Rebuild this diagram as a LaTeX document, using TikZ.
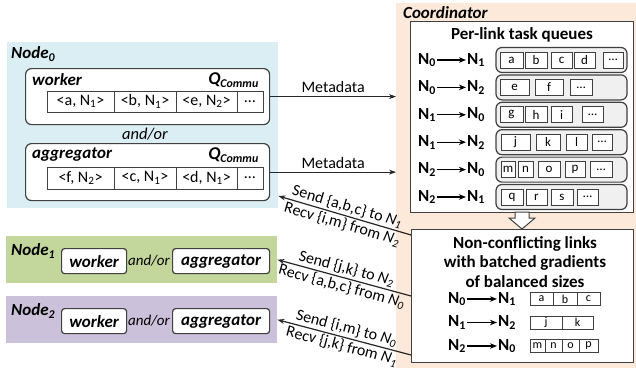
\documentclass[tikz,border=0pt]{standalone}
\usepackage{fontspec}
\setmainfont{Carlito}
\usetikzlibrary{positioning, arrows.meta, calc}

\definecolor{bgzero}{HTML}{DAEEF3}
\definecolor{bgone}{HTML}{C3D69B}
\definecolor{bgtwo}{HTML}{CCC1DA}
\definecolor{bgcoord}{HTML}{FDE9D9}
\definecolor{edge}{HTML}{404040}
\definecolor{qfill}{HTML}{F0F0F0}

\begin{document}
\begin{tikzpicture}[x=1pt, y=-1pt, font=\fontsize{16}{19}\selectfont,
    bgbox/.style={draw=none, inner sep=0pt, anchor=north west},
    rolebox/.style={draw=edge, fill=white, line width=1.2pt, rounded corners=6pt, inner sep=0pt, anchor=north west},
    smallrole/.style={rolebox, rounded corners=3pt, minimum height=25pt},
    panel/.style={draw=edge, fill=white, line width=1.2pt, inner sep=0pt, anchor=north west},
    cell/.style={draw=edge, fill=white, line width=1pt, inner sep=0pt},
    qrow/.style={draw=edge, fill=qfill, line width=1.2pt, rounded corners=6pt, inner sep=0pt,
                 minimum width=131pt, minimum height=25pt},
    hdr/.style={font=\fontsize{17}{20}\selectfont\bfseries\itshape, inner sep=1pt},
    lnk/.style={font=\fontsize{17}{20}\selectfont\bfseries, inner sep=1pt},
    instr/.style={midway, sloped, inner sep=1.5pt},
    flow/.style={draw=black!85, line width=1.2pt, -{Stealth[length=7pt, width=5pt]}},
    lnkarrow/.style={draw=black, line width=1.1pt, -{Stealth[length=7pt, width=5.5pt]}},
  ]
  \useasboundingbox (0,0) rectangle (636,370);

  % coloured backgrounds
  \node[bgbox, fill=bgzero, minimum width=271pt, minimum height=166pt] (nzero) at (7,42) {};
  \node[bgbox, fill=bgone, minimum width=271pt, minimum height=47pt] (none) at (6,236) {};
  \node[bgbox, fill=bgtwo, minimum width=271pt, minimum height=47pt] (ntwo) at (6,296) {};
  \node[bgbox, fill=bgcoord, minimum width=240pt, minimum height=365pt] (coord) at (396,3) {};

  % Node0: worker and aggregator with their Q_Commu queues
  \node[hdr, anchor=west] (nzerolbl) at (10,54) {Node\textsubscript{0}};

  \node[rolebox, minimum width=244pt, minimum height=56pt] (wk) at (25,68) {};
  \node[hdr, anchor=west] (wklbl) at (31,80) {worker};
  \node[hdr, anchor=east] (wkq) at (260,80) {{\fontsize{18}{20}\selectfont Q}\textsubscript{Commu}};
  \foreach \lft/\rgt/\txt [count=\row] in {47/114/{<a, N\textsubscript{1}>}, 114/176/{<b, N\textsubscript{1}>},
      176/237/{<e, N\textsubscript{2}>}, 237/263/\ldots}
    \node[cell, minimum width={(\rgt-\lft)*1pt}, minimum height=21pt] (wkc\row) at ({(\lft+\rgt)/2},101.5) {\txt};

  \node[font=\fontsize{16.5}{19}\selectfont\itshape] (andor) at (145,134.5) {and/or};

  \node[rolebox, minimum width=244pt, minimum height=57pt] (ag) at (25,143) {};
  \node[hdr, anchor=west] (aglbl) at (31,155) {aggregator};
  \node[hdr, anchor=east] (agq) at (260,155) {{\fontsize{18}{20}\selectfont Q}\textsubscript{Commu}};
  \foreach \lft/\rgt/\txt [count=\row] in {47/114/{<f, N\textsubscript{2}>}, 114/176/{<c, N\textsubscript{1}>},
      176/237/{<d, N\textsubscript{1}>}, 237/263/\ldots}
    \node[cell, minimum width={(\rgt-\lft)*1pt}, minimum height=22pt] (agc\row) at ({(\lft+\rgt)/2},178) {\txt};

  % Node1 and Node2
  \node[hdr, anchor=west] (nonelbl) at (10,251) {Node\textsubscript{1}};
  \node[smallrole, minimum width=65pt] (onewk) at (61,248) {};
  \node[hdr] at (onewk.center) {worker};
  \node[font=\fontsize{15}{18}\selectfont\itshape] (oneor) at (149,261) {and/or};
  \node[smallrole, minimum width=97pt] (oneag) at (172,248) {};
  \node[hdr] at (oneag.center) {aggregator};

  \node[hdr, anchor=west] (ntwolbl) at (10,311) {Node\textsubscript{2}};
  \node[smallrole, minimum width=65pt] (twowk) at (61,308) {};
  \node[hdr] at (twowk.center) {worker};
  \node[font=\fontsize{15}{18}\selectfont\itshape] (twoor) at (149,321) {and/or};
  \node[smallrole, minimum width=97pt] (twoag) at (172,308) {};
  \node[hdr] at (twoag.center) {aggregator};

  % Coordinator: per-link task queues
  \node[hdr, anchor=west] (coordlbl) at (402,13) {Coordinator};
  \node[panel, minimum width=223pt, minimum height=191pt] (ptq) at (410,21) {};
  \node[lnk] (ptqlbl) at (522,35) {Per-link task queues};
  \foreach \src/\dst/\cells [count=\row] in {
      0/1/{500/523/a,525/547/b,551/572/c,574/595/d,603/623/\ldots},
      0/2/{500/529/e,535/563/f,570/592/\ldots},
      1/0/{500/523/g,525/547/h,551/572/i,582/603/\ldots},
      1/2/{501/530/j,536/560/k,566/587/l,592/612/\ldots},
      2/0/{501/515/m,518/533/n,538/560/o,565/585/p,590/612/\ldots},
      2/1/{501/523/q,526/547/r,551/573/s,577/598/\ldots}} {
    \pgfmathsetmacro{\yy}{60+27.4*(\row-1)}
    \node[lnk] (qs\row) at (427,\yy) {N\textsubscript{\src}};
    \node[lnk] (qt\row) at (476,\yy) {N\textsubscript{\dst}};
    \draw[lnkarrow] (qs\row) -- (qt\row);
    \node[qrow] (qr\row) at (561.5,\yy) {};
    \foreach \lft/\rgt/\lbl in \cells
      \node[cell, minimum width={(\rgt-\lft)*1pt}, minimum height=16pt, font=\fontsize{13}{13}\selectfont]
        (qc\row-\lft) at ({(\lft+\rgt)/2},\yy) {\lbl};
  }

  % hollow arrow down to the selected links
  \draw[draw=edge, fill=white, line width=1pt] (515,212) -- (529,212) -- (529,218) -- (535,218)
    -- (522,229) -- (509,218) -- (515,218) -- cycle;

  % non-conflicting links
  \node[panel, minimum width=222pt, minimum height=133pt] (nc) at (411,229) {};
  \node[font=\fontsize{17}{19.5}\selectfont\bfseries, align=center] (nclbl) at (525,262)
    {Non-conflicting links\\with batched gradients\\of balanced sizes};
  \foreach \src/\dst/\cells [count=\row] in {
      0/1/{530/553/a,553/577/b,577/600/c},
      1/2/{530/562/j,562/593/k},
      2/0/{530/545/m,545/562/n,562/579/o,579/598/p}} {
    \pgfmathsetmacro{\yy}{299+23.5*(\row-1)}
    \node[lnk] (bs\row) at (457,\yy) {N\textsubscript{\src}};
    \node[lnk] (bt\row) at (507,\yy) {N\textsubscript{\dst}};
    \draw[lnkarrow] (bs\row) -- (bt\row);
    \foreach \lft/\rgt/\lbl in \cells
      \node[cell, minimum width={(\rgt-\lft)*1pt}, minimum height=13pt, font=\fontsize{12}{12}\selectfont]
        (bc\row-\lft) at ({(\lft+\rgt)/2},\yy) {\lbl};
  }

  % metadata to the coordinator
  \draw[flow] (wk.east) -- (wk.east -| coord.west) node[midway, above] (mdone) {Metadata};
  \draw[flow] (ag.east) -- (ag.east -| coord.west) node[midway, above] (mdtwo) {Metadata};

  % send / recv instructions back to the nodes
  \coordinate (outzero) at ($(nc.north west)+(0,6)$);
  \coordinate (outone) at ($(nc.north west)+(0,67)$);
  \coordinate (outtwo) at ($(nc.north west)+(0,126)$);
  \coordinate (inzero) at ($(nzero.north east)+(0,154)$);
  \draw[flow] (outzero) -- (inzero)
    node[instr, above] (sendzero) {Send \{a,b,c\} to \textit{N}\textsubscript{\textit{1}}}
    node[instr, below] (recvzero) {Recv \{i,m\} from \textit{N}\textsubscript{\textit{2}}};
  \draw[flow] (outone) -- (none.east)
    node[instr, above] (sendone) {Send \{j,k\} to \textit{N}\textsubscript{\textit{2}}}
    node[instr, below] (recvone) {Recv \{a,b,c\} from \textit{N}\textsubscript{\textit{0}}};
  \draw[flow] (outtwo) -- (ntwo.east)
    node[instr, above] (sendtwo) {Send \{i,m\} to \textit{N}\textsubscript{\textit{0}}}
    node[instr, below] (recvtwo) {Recv \{j,k\} from \textit{N}\textsubscript{\textit{1}}};
\end{tikzpicture}
\end{document}
